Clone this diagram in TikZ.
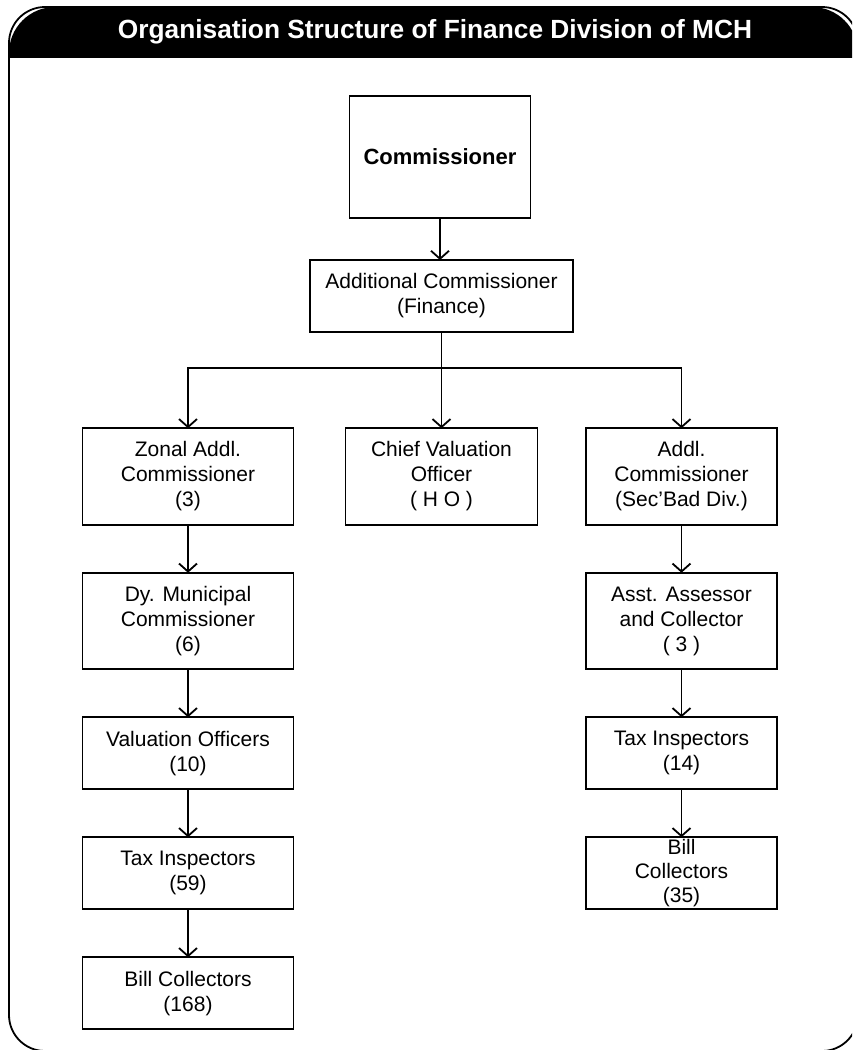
\documentclass[tikz,border=0pt]{standalone}
\usepackage{fontspec}
\setmainfont{Liberation Sans}
\usetikzlibrary{positioning, arrows.meta}
\tikzset{
  >={Straight Barb[length=8pt,width=18pt]},
  node distance=48pt,
  post/.style={draw, inner sep=0pt, outer sep=0pt, align=center,
    font=\fontsize{21}{25}\selectfont},
  tall/.style={post, minimum width=211pt, minimum height=96.5pt},
  flat/.style={post, minimum width=211pt, minimum height=72pt},
}

\begin{document}
\begin{tikzpicture}[x=1pt, y=-1pt, line width=1.8pt]
  \clip (0,0) rectangle (852,1050);
  % frame and title band
  \begin{scope}
    \clip (0,0) rectangle (852,57);
    \fill[rounded corners=46pt] (9,7) rectangle (858,1051);
  \end{scope}
  \draw[rounded corners=36pt] (9,7) rectangle (858,1051);
  \node[text=white, font=\bfseries\fontsize{26.3}{30}\selectfont] (title) at (435,32)
    {Organisation Structure of Finance Division of MCH};

  \node[post, minimum width=181pt, minimum height=122pt,
        font=\bfseries\fontsize{22}{26}\selectfont] (comm) at (440,157) {Commissioner};
  \node[post, minimum width=263pt, minimum height=72pt] (addl) at (441.5,296)
    {Additional Commissioner\\(Finance)};

  \node[tall] (zonal) at (188,476.5) {Zonal Addl.\\Commissioner\\(3)};
  \node[tall, minimum width=192pt] (chief) at (441.5,476.5) {Chief Valuation\\Officer\\( H O )};
  \node[tall, minimum width=191pt] (secbad) at (681.5,476.5) {Addl.\\Commissioner\\(Sec'Bad Div.)};

  \node[tall, below=of zonal]  (dymc) {Dy. Municipal\\Commissioner\\(6)};
  \node[flat, below=of dymc]   (valoff) {Valuation Officers\\(10)};
  \node[flat, below=of valoff] (taxl) {Tax Inspectors\\(59)};
  \node[flat, below=of taxl]   (billl) {Bill Collectors\\(168)};

  \node[tall, minimum width=191pt, below=of secbad] (asst) {Asst. Assessor\\and Collector\\( 3 )};
  \node[flat, minimum width=191pt, below=of asst]   (taxr) {Tax Inspectors\\(14)};
  \node[flat, minimum width=191pt, below=of taxr,
        font=\fontsize{21}{24}\selectfont]         (billr) {Bill\\Collectors\\(35)};

  \coordinate (bus) at (441.5,368);
  \draw[->] (comm) -- (comm |- addl.north);
  \draw (addl.south) -- (bus);
  \draw[->] (bus) -| (zonal.north);
  \draw[->] (bus) -| (secbad.north);
  \draw[->] (bus) -- (chief);
  \draw[->] (zonal) -- (dymc);
  \draw[->] (dymc) -- (valoff);
  \draw[->] (valoff) -- (taxl);
  \draw[->] (taxl) -- (billl);
  \draw[->] (secbad) -- (asst);
  \draw[->] (asst) -- (taxr);
  \draw[->] (taxr) -- (billr);
\end{tikzpicture}
\end{document}
